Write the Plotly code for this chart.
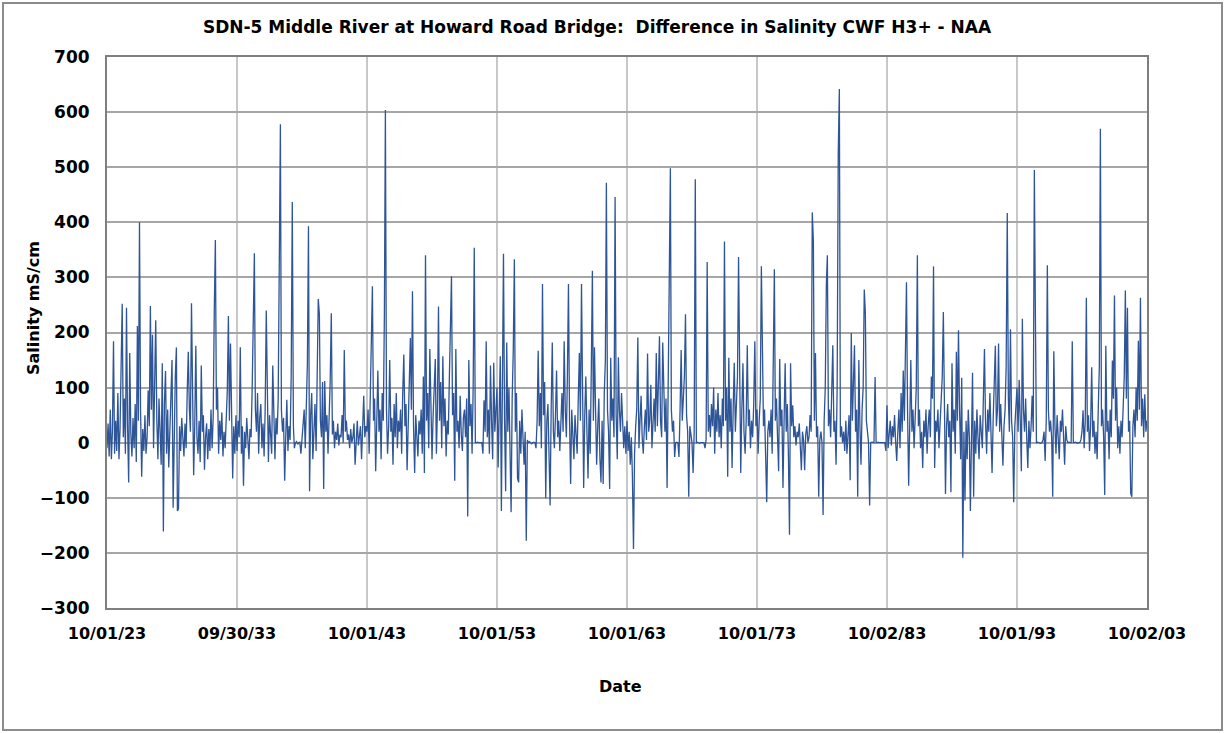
import pandas as pd
import plotly.graph_objects as go

# Monthly readings (difference in salinity), Oct 1923 - Oct 2003, one list per decade
vals_1923_1933 = [
    -10, 35, -25, 60, -30, 20, 184, -20, 40, -15,
    90, -30, 25, 120, 252, 10, 80, -20, 245, 30,
    -72, 163, 15, -25, 45, -10, 70, -35, 212, 40,
    400, 60, -62, 25, -15, 50, -20, 10, 95, 30,
    248, 60, 196, -10, 110, 222, 40, -30, 80, 15,
    -40, 144, -161, 70, 130, -20, 60, -45, 20, 90,
    150, -118, 40, 120, 173, -124, -120, 30, -15, 45,
    10, -25, 35, -10, 90, 165, 60, 20, 253, 70,
    -59, 30, 176, 10, -20, 40, -35, 140, 20, 50,
    -49, 10, 35, -30, 25, -15, 60, -10, 45, 238,
    368, 60, 100, -20, 40, 5, 55, -25, 20, -10,
    30, 95, 230, 40, 180, 20, -65, 30, -20, 50,
]
vals_1933_1943 = [
    -15, 40, 10, 173, -20, 30, -78, 20, -10, 45,
    0, -30, 25, 10, 100, 261, 344, 60, 20, 90,
    -20, 45, 70, -10, 35, -25, 60, 240, 30, -35,
    50, 10, -20, 140, 20, -30, 45, 15, 80, 275,
    578, 60, 20, 45, -69, 10, 78, -15, 30, 5,
    120, 437, 30, -10, 0, 2, -3, 0, 1, -20,
    10, 35, 60, -10, 100, 144, 393, -88, 50, 90,
    -30, 40, 70, -15, 140, 261, 233, 40, 10, 110,
    -84, 112, 20, 50, -20, 30, 110, 235, 15, 40,
    -10, 20, 5, 35, -5, 15, 10, 50, 0, 168,
    20, 40, 5, 15, -10, 25, 0, 10, 35, -40,
    15, 40, -5, 20, 30, -30, 50, 85, 10, 30,
]
vals_1943_1953 = [
    20, 60, -20, 100, 190, 284, 40, 80, -52, 30,
    131, 20, 60, -30, 90, 40, 235, 604, 60, -20,
    30, 150, 20, 45, -40, 70, 10, 90, -10, 40,
    20, 60, -20, 90, 160, 30, 70, -50, 40, 120,
    190, 60, 275, 30, -55, 50, 10, -25, 40, 15,
    60, -20, 120, -55, 340, 40, 90, -10, 170, 30,
    -30, 50, 90, 152, -20, 60, 247, 40, 110, -10,
    157, 30, 80, -25, 40, 15, 120, 229, 302, 50,
    90, -69, 170, 20, 40, -10, 85, 15, -15, 45,
    60, 10, 80, -134, 150, 30, 70, -20, 100, 354,
    0, 0, 1, 0, 0, -1, 0, -20, 77, 20,
    184, 10, 60, -20, 140, 40, -30, 145, 20, 60,
]
vals_1953_1963 = [
    100, -45, 60, 157, -124, 90, 343, 40, -88, 182,
    20, 100, -40, -126, 80, 167, 333, 20, 90, -65,
    -72, 40, -20, 60, 10, -40, 20, -178, 5, 0,
    2, 0, -2, 0, 1, 0, -10, 40, 167, 30,
    90, -10, 288, 50, 110, -101, 40, 70, -20, -114,
    60, 182, 20, -10, 50, 131, 10, 40, -15, 30,
    90, 20, 184, 60, 10, 120, 288, 40, -75, 60,
    20, -30, 50, 10, -20, 80, 163, 40, 288, 100,
    -82, 50, 120, 20, -65, 60, -20, 130, 312, 40,
    173, 60, -40, 30, 80, -30, -72, 40, -75, 90,
    150, 472, 60, 20, -84, 154, 40, 80, 10, 446,
    50, -30, 155, 60, 20, 90, 40, -10, 30, -20,
]
vals_1963_1973 = [
    40, -15, 20, -40, 10, -60, -193, -20, 30, 60,
    191, -10, 40, 85, 10, -20, 30, 60, 5, 162,
    20, 40, 105, -10, 35, 80, 20, 163, 30, 90,
    193, 40, 10, 182, 60, 20, 80, -82, 100, 278,
    498, 60, 20, 40, -26, 0, 1, 0, -26, 60,
    168, 40, 90, 120, 233, 50, 20, -98, 30, 10,
    0, -55, 20, 478, 0, 1, 0, -1, 0, 0,
    1, 0, -10, 5, 328, 20, 50, 10, 70, 30,
    100, -20, 60, 20, 90, 10, 50, -10, 80, 30,
    365, 40, 100, -62, 154, 20, 80, -46, 60, 145,
    20, 90, 120, 337, 40, -55, 60, 144, 20, -20,
    40, 177, 30, 60, -10, 40, 10, 70, 184, 30,
]
vals_1973_1983 = [
    60, -20, 40, 80, 320, 190, 30, 60, -10, -108,
    20, 40, 10, 60, -20, 160, 315, 40, 80, 10,
    -52, 152, 30, 60, -82, 40, 144, 20, 70, -20,
    -167, 144, 30, 68, 10, 30, -5, 20, 10, 35,
    0, -50, 20, 5, -50, 15, 30, 0, 10, 50,
    20, 418, 366, 40, 163, 10, 30, -98, 5, 20,
    0, -131, 40, 100, 288, 340, 30, 60, 10, 90,
    177, 20, 40, -40, 100, 526, 642, 10, 30, 0,
    20, -15, 40, -20, 10, 50, -68, 199, 40, 100,
    177, 20, 60, -98, 150, 30, -40, 60, 100, 278,
    235, 40, 10, 0, -114, 0, 1, 0, 0, 119,
    0, 0, 1, 0, 0, -1, 0, 0, 0, -15,
]
vals_1983_1993 = [
    68, -10, 20, 40, -5, 30, 10, 50, 0, -33,
    20, 60, -10, 90, 20, 131, 40, 154, 291, 60,
    -78, 30, 150, 20, 60, -10, 40, 100, 340, 30,
    60, -10, 20, -46, 40, 10, 60, -20, 30, 60,
    10, 120, 80, 320, -46, 40, 20, 60, -10, 30,
    80, 120, 237, 40, -93, 30, 70, 10, 40, -90,
    144, 20, 60, -20, 165, 40, 204, 60, -30, 118,
    -209, 20, -105, 40, -30, 60, 10, -124, 30, 127,
    -98, 40, -20, 60, 10, -30, 50, 20, -10, 80,
    170, 40, -20, 60, 20, 90, 10, -55, 40, 100,
    176, 30, 60, 180, 20, 70, 10, -42, 30, 60,
    140, 417, 80, 20, 206, 40, 10, -108, 30, 60,
]
vals_1993_2003 = [
    100, 20, 114, 40, -52, 225, 60, 20, 80, 10,
    -46, 40, -10, 30, 85, 20, 495, 242, 0, 1,
    0, 0, -1, 0, 5, 20, -33, 40, 322, 60,
    20, 40, 10, -98, 166, 30, -20, 50, 10, -30,
    40, 20, 60, -10, -40, 30, 5, 0, 1, 0,
    0, 184, 0, 0, 1, 0, -1, 0, 0, 5,
    20, 59, -10, 40, 263, 20, 50, -15, 30, 137,
    10, 40, -20, 20, -30, 60, 139, 570, 30, 60,
    10, -95, 176, 20, 40, -30, 60, 10, 149, 80,
    267, 40, 100, -10, 30, -20, 40, 10, 60, 120,
    276, 80, 245, 20, 40, -92, -98, 30, 60, 10,
    100, 40, 185, 60, 263, 30, 80, 10, 88, 20,
    40,
]

tick_dates = ["1923-10-01", "1933-09-30", "1943-10-01", "1953-10-01", "1963-10-01",
              "1973-10-01", "1983-10-02", "1993-10-01", "2003-10-02"]
tick_labels = ["10/01/23", "09/30/33", "10/01/43", "10/01/53", "10/01/63",
               "10/01/73", "10/02/83", "10/01/93", "10/02/03"]

values = (vals_1923_1933 + vals_1933_1943 + vals_1943_1953 + vals_1953_1963 +
          vals_1963_1973 + vals_1973_1983 + vals_1983_1993 + vals_1993_2003)
dates = pd.date_range("1923-10-01", periods=len(values), freq="MS")

FONT = "DejaVu Sans, Arial, sans-serif"
PW, PH = 1040, 551  # plot area size in px

fig = go.Figure()
fig.add_trace(go.Scatter(x=dates, y=values, mode="lines",
                         line=dict(color="#2E5597", width=1.3), showlegend=False))

fig.update_layout(
    width=1225, height=733,
    margin=dict(l=107, r=78, t=57, b=125),
    paper_bgcolor="white", plot_bgcolor="white",
    font=dict(family=FONT, color="black"),
    title=dict(text="<b>SDN-5 Middle River at Howard Road Bridge:  Difference in Salinity CWF H3+ - NAA</b>",
               x=(597 - 107) / PW, xref="paper", xanchor="center",
               y=1 - 27 / 733, yref="container", yanchor="middle",
               font=dict(size=17, family=FONT)),
    xaxis=dict(
        type="date",
        range=["1923-10-01", "2003-10-02"],
        tickvals=tick_dates, ticktext=["<b>%s</b>" % t for t in tick_labels],
        tickfont=dict(size=16),
        showgrid=True, gridcolor="#C8C8C8", gridwidth=1.5,
        showline=True, linecolor="#7F7F7F", linewidth=2, mirror=True,
        ticks="", ticklabelstandoff=10,
        zeroline=False,
    ),
    yaxis=dict(
        range=[-300, 700], dtick=100, tick0=0,
        tickfont=dict(size=17), tickprefix="<b>", ticksuffix="</b>",
        showgrid=True, gridcolor="#A6A6A6", gridwidth=2,
        showline=True, linecolor="#7F7F7F", linewidth=2, mirror=True,
        ticks="", ticklabelstandoff=12,
        zeroline=False,
    ),
    annotations=[
        dict(text="<b>Salinity mS/cm</b>", textangle=-90, showarrow=False,
             xref="paper", yref="paper", x=(33 - 107) / PW, y=(608 - 308) / PH,
             xanchor="center", yanchor="middle", font=dict(size=16)),
        dict(text="<b>Date</b>", showarrow=False,
             xref="paper", yref="paper", x=(620 - 107) / PW, y=(608 - 686) / PH,
             xanchor="center", yanchor="middle", font=dict(size=16)),
    ],
)

# outer chart frame
fig.add_shape(type="rect", xref="paper", yref="paper",
              x0=(3 - 107) / PW, x1=(1222 - 107) / PW,
              y0=(608 - 730) / PH, y1=(608 - 3) / PH,
              line=dict(color="#8C8C8C", width=2), layer="below")

fig.write_html("out.html", config={"displayModeBar": False},
               post_script="document.body.style.margin='0';")
